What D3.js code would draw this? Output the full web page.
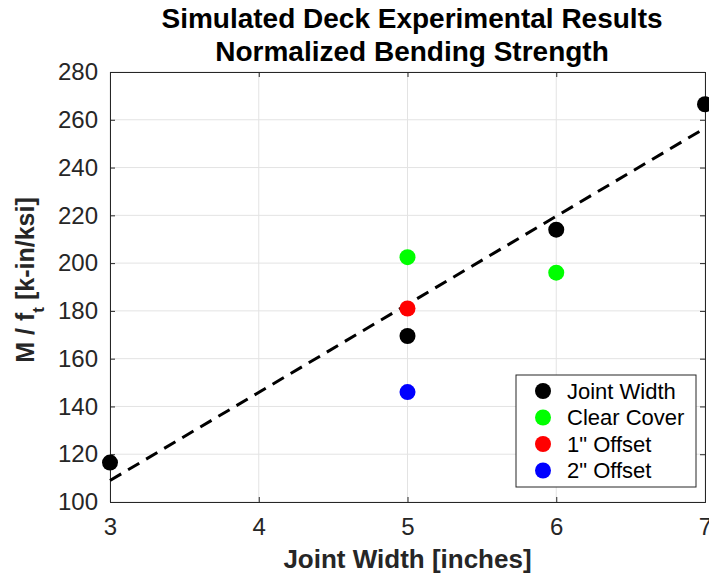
<!DOCTYPE html>
<html>
<head>
<meta charset="utf-8">
<script src="https://cdn.jsdelivr.net/npm/d3@7"></script>
<style>
  body { margin: 0; background: #fff; }
  svg text { font-family: "Liberation Sans", Arial, sans-serif; }
</style>
</head>
<body>
<div id="chart"></div>
<script>
// series values
const seriesNames = ["Joint Width", "Clear Cover", "1\" Offset", "2\" Offset"];
const seriesColors = ["#000000", "#00ff00", "#ff0000", "#0000ff"];
const jointWidthX = [3, 5, 6, 7];
const jointWidthY = [116.5, 169.5, 214, 266.5];
const clearCoverX = [5, 6];
const clearCoverY = [202.5, 196];
const offset1X = [5];
const offset1Y = [181];
const offset2X = [5];
const offset2Y = [146];
// dashed trend line end points
const fitX = [3, 7];
const fitY = [109, 256.5];

const xTicks = [3, 4, 5, 6, 7];
const yTicks = [100, 120, 140, 160, 180, 200, 220, 240, 260, 280];

const series = [
  {x: jointWidthX, y: jointWidthY},
  {x: clearCoverX, y: clearCoverY},
  {x: offset1X, y: offset1Y},
  {x: offset2X, y: offset2Y}
];

const W = 709, H = 575;
const margin = {top: 72, right: 4, bottom: 73, left: 110};
const width = W - margin.left - margin.right;
const height = H - margin.top - margin.bottom;

const svg = d3.select("#chart").append("svg")
    .attr("width", W)
    .attr("height", H);

const g = svg.append("g")
    .attr("transform", `translate(${margin.left},${margin.top})`);

const x = d3.scaleLinear().domain([3, 7]).range([0, width]);
const y = d3.scaleLinear().domain([100, 280]).range([height, 0]);

// grid
g.append("g").selectAll("line").data(xTicks).join("line")
    .attr("x1", d => x(d)).attr("x2", d => x(d))
    .attr("y1", 0).attr("y2", height)
    .attr("stroke", "#e3e3e3").attr("stroke-width", 1);
g.append("g").selectAll("line").data(yTicks).join("line")
    .attr("x1", 0).attr("x2", width)
    .attr("y1", d => y(d)).attr("y2", d => y(d))
    .attr("stroke", "#e3e3e3").attr("stroke-width", 1);

// axes (ticks point inward, box around)
const xAxis = g.append("g")
    .attr("transform", `translate(0,${height})`)
    .call(d3.axisBottom(x).tickValues(xTicks).tickSize(-5).tickPadding(16).tickFormat(d3.format("d")));
const xAxisTop = g.append("g")
    .call(d3.axisTop(x).tickValues(xTicks).tickSize(-5).tickFormat(""));
const yAxis = g.append("g")
    .call(d3.axisLeft(y).tickValues(yTicks).tickSize(-5).tickPadding(12));
const yAxisRight = g.append("g")
    .attr("transform", `translate(${width},0)`)
    .call(d3.axisRight(y).tickValues(yTicks).tickSize(-5).tickFormat(""));

[xAxis, xAxisTop, yAxis, yAxisRight].forEach(a => {
  a.select(".domain").attr("stroke", "#262626");
  a.selectAll(".tick line").attr("stroke", "#262626");
  a.selectAll("text").attr("fill", "#262626").style("font-size", "24px");
});

// trend line
const line = d3.line().x(d => x(d[0])).y(d => y(d[1]));
g.append("path")
    .datum(fitX.map((v, i) => [v, fitY[i]]))
    .attr("d", line)
    .attr("fill", "none")
    .attr("stroke", "#000")
    .attr("stroke-width", 3)
    .attr("stroke-dasharray", "13,8");

// points
series.forEach((s, i) => {
  g.append("g").selectAll("circle")
      .data(s.x.map((v, j) => [v, s.y[j]]))
      .join("circle")
      .attr("cx", d => x(d[0]))
      .attr("cy", d => y(d[1]))
      .attr("r", 8)
      .attr("fill", seriesColors[i]);
});

// legend
const legend = svg.append("g").attr("transform", "translate(516,375)");
legend.append("rect")
    .attr("width", 180).attr("height", 112)
    .attr("fill", "#fff").attr("stroke", "#262626").attr("stroke-width", 1);
seriesNames.forEach((name, i) => {
  const ly = 16 + i * 26.5;
  legend.append("circle").attr("cx", 27).attr("cy", ly).attr("r", 8).attr("fill", seriesColors[i]);
  legend.append("text").attr("x", 51).attr("y", ly).text(name)
      .style("font-size", "22px").attr("fill", "#000")
      .attr("dominant-baseline", "central");
});

// title
const titleLines = ["Simulated Deck Experimental Results", "Normalized Bending Strength"];
titleLines.forEach((t, i) => {
  svg.append("text")
      .attr("x", 412).attr("y", 28 + i * 33)
      .attr("text-anchor", "middle")
      .style("font-size", "28px").style("font-weight", "bold")
      .attr("fill", "#000")
      .text(t);
});

// x label
svg.append("text")
    .attr("x", margin.left + width / 2).attr("y", 568)
    .attr("text-anchor", "middle")
    .style("font-size", "26px").style("font-weight", "bold")
    .attr("fill", "#262626")
    .text("Joint Width [inches]");

// y label with subscript
const yl = svg.append("text")
    .attr("transform", `translate(34,280) rotate(-90)`)
    .attr("text-anchor", "middle")
    .style("font-size", "25px").style("font-weight", "bold")
    .attr("fill", "#262626");
yl.append("tspan").text("M / f");
yl.append("tspan").attr("baseline-shift", "sub").style("font-size", "17px").text("t");
yl.append("tspan").text(" [k-in/ksi]");
</script>
</body>
</html>
